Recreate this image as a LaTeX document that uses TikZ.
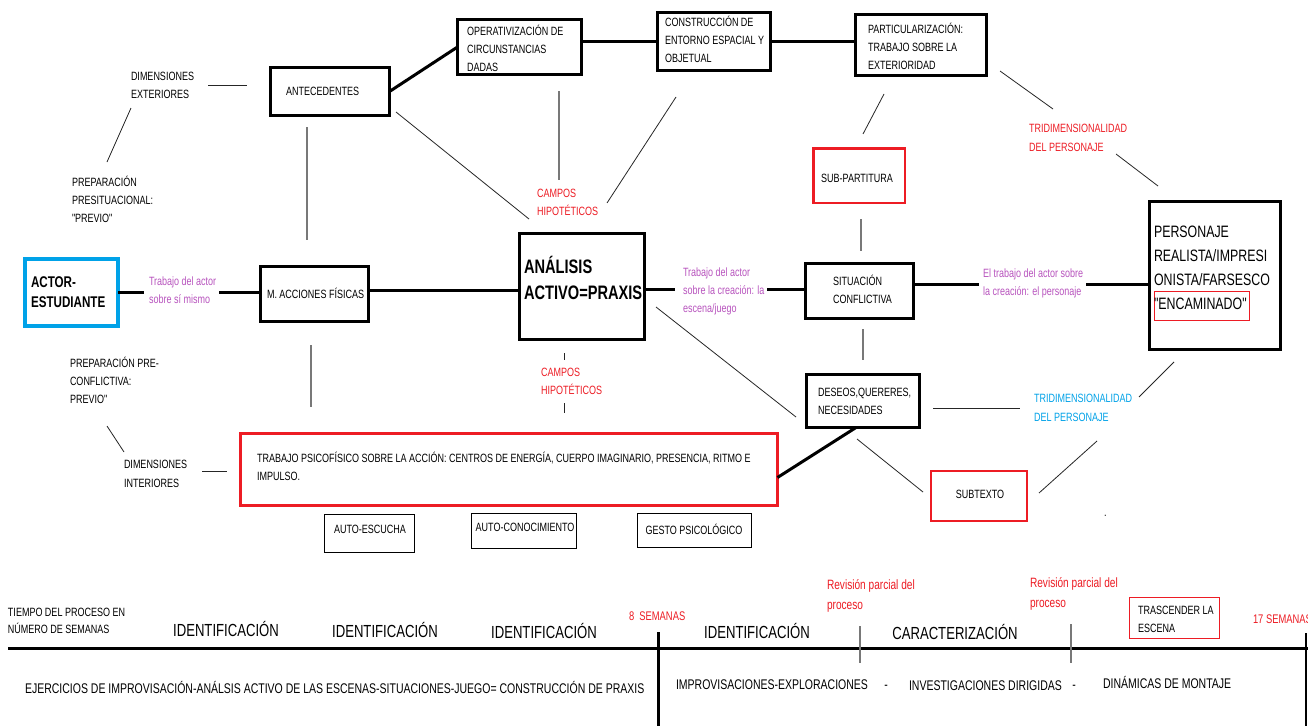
\documentclass[tikz,border=0pt]{standalone}
\usepackage{fontspec}
\setmainfont{Liberation Sans}[FakeStretch=0.75, Ligatures=TeXOff]
\usetikzlibrary{calc}
\definecolor{pred}{RGB}{237,28,36}
\definecolor{pblue}{RGB}{0,162,232}
\definecolor{ppurp}{RGB}{184,84,190}
\definecolor{lgray}{RGB}{120,120,120}
\begin{document}
\begin{tikzpicture}[x=1pt,y=-1pt,
  box/.style={draw, line width=3pt, inner sep=0pt, outer sep=0pt, anchor=north west},
  rbox/.style={box, draw=pred},
  sbox/.style={box, line width=1pt},
  % multi-line texts are placed by the baseline of their last line
  t/.style={inner sep=0pt, outer sep=0pt, anchor=base west, align=left, font=\fontsize{12}{18}\selectfont},
  tc/.style={t, anchor=base, align=center},
  fat/.style={line width=3pt},
  thin/.style={line width=0.8pt, draw=black!85},
  gthin/.style={line width=1.1pt, draw=lgray},
]
\useasboundingbox (0,0) rectangle (1308,726);
\fill[white] (0,0) rectangle (1308,726);

% ---------- boxes ----------
\node[box, minimum width=119pt, minimum height=48pt] (ant) at (270.5,67.5) {};
\node[box, minimum width=124pt, minimum height=55pt] (ope) at (457.5,19.5) {};
\node[box, minimum width=113pt, minimum height=58pt] (con) at (657.5,12.5) {};
\node[box, minimum width=131pt, minimum height=61pt] (par) at (855.5,14.5) {};
\node[rbox, line width=2.5pt, minimum width=91.5pt, minimum height=54.5pt] (sub) at (813.25,148.25) {};
\node[box, minimum width=108pt, minimum height=55pt] (sit) at (805.5,263.5) {};
\node[box, minimum width=113pt, minimum height=53pt] (des) at (806.5,374.5) {};
\node[box, minimum width=131pt, minimum height=148pt] (per) at (1149.5,201.5) {};
\node[box, minimum width=125pt, minimum height=106pt] (ana) at (519.5,233.5) {};
\node[box, minimum width=108pt, minimum height=55pt] (mac) at (260.5,266.5) {};
\node[box, draw=pblue, line width=4pt, minimum width=93pt, minimum height=67pt] (act) at (25,259) {};
\node[rbox, minimum width=537pt, minimum height=72pt] (tra) at (240.5,433.5) {};
\node[rbox, line width=2.2pt, minimum width=96pt, minimum height=50pt] (stx) at (931,471) {};
\node[sbox, minimum width=90pt, minimum height=38pt] (aes) at (324.5,514.5) {};
\node[sbox, minimum width=105pt, minimum height=35pt] (aco) at (471.5,513.5) {};
\node[sbox, minimum width=114pt, minimum height=34pt] (ges) at (637.5,513.5) {};
\node[sbox, draw=pred, line width=1.2pt, minimum width=90pt, minimum height=41pt] (tre) at (1129.5,597.5) {};
\node[sbox, draw=pred, minimum width=95pt, minimum height=29pt] (enc) at (1154.5,291.5) {};

% ---------- box texts ----------
\node[t] (antT) at (286,95.3) {ANTECEDENTES};
\node[t] (opeT) at (467,71.3) {OPERATIVIZACIÓN DE\\CIRCUNSTANCIAS\\DADAS};
\node[t] (conT) at (665,62.5) {CONSTRUCCIÓN DE\\ENTORNO ESPACIAL Y\\OBJETUAL};
\node[t] (parT) at (868,69.3) {PARTICULARIZACIÓN:\\TRABAJO SOBRE LA\\EXTERIORIDAD};
\node[tc] (subT) at (857,182.3) {SUB-PARTITURA};
\node[t] (sitT) at (833,303.3) {SITUACIÓN\\CONFLICTIVA};
\node[t] (desT) at (818,414.3) {DESEOS,QUERERES,\\NECESIDADES};
\node[t, font=\fontsize{16.5}{24}\selectfont] (perT) at (1154,309) {PERSONAJE\\REALISTA/IMPRESI\\ONISTA/FARSESCO\\"ENCAMINADO"};
\node[t, font=\fontsize{19.5}{26}\selectfont\bfseries] (anaT) at (524,299) {ANÁLISIS\\ACTIVO=PRAXIS};
\node[t] (macT) at (267,298.3) {M. ACCIONES FÍSICAS};
\node[t, font=\fontsize{15.5}{20}\selectfont\bfseries] (actT) at (31,307.5) {ACTOR-\\ESTUDIANTE};
\node[t] (traT) at (257,480.3) {TRABAJO PSICOFÍSICO SOBRE LA ACCIÓN: CENTROS DE ENERGÍA, CUERPO IMAGINARIO, PRESENCIA, RITMO E\\IMPULSO.};
\node[tc] (stxT) at (980,498.3) {SUBTEXTO};
\node[tc] (aesT) at (370,533.3) {AUTO-ESCUCHA};
\node[tc] (acoT) at (525,531.3) {AUTO-CONOCIMIENTO};
\node[tc] (gesT) at (694,534.3) {GESTO PSICOLÓGICO};
\node[t] (treT) at (1138,632.3) {TRASCENDER LA\\ESCENA};

% ---------- free labels ----------
\node[t] (dext) at (131,98.3) {DIMENSIONES\\EXTERIORES};
\node[t] (pres) at (72,222.3) {PREPARACIÓN\\PRESITUACIONAL:\\"PREVIO"};
\node[t] (pcon) at (70,403.3) {PREPARACIÓN PRE-\\CONFLICTIVA:\\PREVIO"};
\node[t, font=\fontsize{12}{19}\selectfont] (dint) at (124,487.3) {DIMENSIONES\\INTERIORES};
\node[t, text=pred] (cam1) at (537,215.3) {CAMPOS\\HIPOTÉTICOS};
\node[t, text=pred] (cam2) at (541,394.3) {CAMPOS\\HIPOTÉTICOS};
\node[t, text=pred, font=\fontsize{12}{19}\selectfont] (tri1) at (1029,151.3) {TRIDIMENSIONALIDAD\\DEL PERSONAJE};
\node[t, text=pblue, font=\fontsize{12}{19}\selectfont] (tri2) at (1034,421.3) {TRIDIMENSIONALIDAD\\DEL PERSONAJE};
\node[t, text=ppurp] (p1) at (149,303.3) {Trabajo del actor\\sobre sí mismo};
\node[t, text=ppurp] (p2) at (683,312.3) {Trabajo del actor\\sobre la creación: la\\escena/juego};
\node[t, text=ppurp] (p3) at (983,295.3) {El trabajo del actor sobre\\la creación: el personaje};
\node[t] (dot) at (1104,516) {.};

% ---------- thick connectors ----------
\draw[fat] (act.east) -- ($(p1.west |- act.east)+(-5,0)$);
\draw[fat] ($(p1.east |- act.east)+(3,0)$) -- (mac.west |- act.east);
\draw[fat] ([yshift=4pt]mac.east) -- ([yshift=4pt]mac.east -| ana.west);
\path ([yshift=2pt]sit.west) coordinate (sw);
\draw[fat] (ana.east |- sw) -- ($(p2.west |- sw)+(-8,0)$);
\draw[fat] ($(p2.east |- sw)+(3,0)$) -- (sw);
\path ([yshift=7pt]sit.east) coordinate (se);
\draw[fat] (se) -- ($(p3.west |- se)+(-4,0)$);
\draw[fat] ($(p3.east |- se)+(3,0)$) -- (per.west |- se);
\draw[fat] (ant.east) -- (ope.west);
\draw[fat] (ope.east |- con.west) -- (con.west);
\draw[fat] (con.east) -- (con.east -| par.west);
\draw[fat] ([yshift=-8pt]tra.east) -- ([xshift=-7pt]des.south);

% ---------- thin connectors ----------
\coordinate (dextR) at (208,85);   \coordinate (antL) at (247,85);
\coordinate (dextB) at (131,108);  \coordinate (presT) at (107,162);
\coordinate (antB) at (307,127);   \coordinate (macA) at (307,240);
\coordinate (macB) at (311,345);   \coordinate (traA) at (311,407);
\coordinate (pconB) at (107,426);  \coordinate (dintT) at (124,452);
\coordinate (dintR) at (202,471);  \coordinate (traL) at (227,471);
\coordinate (antD) at (396,112);   \coordinate (anaA) at (529,219);
\coordinate (opeB) at (559,91);    \coordinate (cam1T) at (559,180);
\coordinate (conB) at (676,97);    \coordinate (cam1R) at (607,203);
\coordinate (anaB1) at (564,353);  \coordinate (cam2T) at (564,360);
\coordinate (cam2B) at (564,403);  \coordinate (traT1) at (564,413);
\coordinate (anaD) at (656,307);   \coordinate (desL) at (796,417);
\coordinate (parB) at (884,94);    \coordinate (subT1) at (863,134);
\coordinate (subB) at (861,219);   \coordinate (sitT1) at (861,251);
\coordinate (sitB) at (863,329);   \coordinate (desT1) at (863,360);
\coordinate (parR) at (1000,71);   \coordinate (tri1L) at (1053,109);
\coordinate (tri1R) at (1116,154); \coordinate (perT1) at (1158,186);
\coordinate (desD) at (857,439);   \coordinate (stxL) at (923,492);
\coordinate (desR) at (933,408);   \coordinate (tri2L) at (1020,408);
\coordinate (tri2R) at (1139,397); \coordinate (perB) at (1174,362);
\coordinate (tri2B) at (1097,441); \coordinate (stxR) at (1039,493);

\draw[thin] (dextR) -- (antL);
\draw[thin] (dextB) -- (presT);
\draw[gthin] (antB) -- (macA);
\draw[gthin] (macB) -- (traA);
\draw[thin] (pconB) -- (dintT);
\draw[thin] (dintR) -- (traL);
\draw[thin] (antD) -- (anaA);
\draw[gthin] (opeB) -- (cam1T);
\draw[thin] (conB) -- (cam1R);
\draw[thin] (anaB1) -- (cam2T);
\draw[thin] (cam2B) -- (traT1);
\draw[thin] (anaD) -- (desL);
\draw[thin] (parB) -- (subT1);
\draw[gthin] (subB) -- (sitT1);
\draw[gthin] (sitB) -- (desT1);
\draw[thin] (parR) -- (tri1L);
\draw[thin] (tri1R) -- (perT1);
\draw[thin] (desD) -- (stxL);
\draw[thin] (desR) -- (tri2L);
\draw[thin] (tri2R) -- (perB);
\draw[thin] (tri2B) -- (stxR);

% ---------- timeline ----------
\node[t, font=\fontsize{12}{17}\selectfont] (tiempo) at (8,633.3) {TIEMPO DEL PROCESO EN\\NÚMERO DE SEMANAS};
\node[tc, font=\fontsize{17.5}{20}\selectfont] (id1) at (226,636.3) {IDENTIFICACIÓN};
\node[tc, font=\fontsize{17.5}{20}\selectfont] (id2) at (385,637.3) {IDENTIFICACIÓN};
\node[tc, font=\fontsize{17.5}{20}\selectfont] (id3) at (544,638.3) {IDENTIFICACIÓN};
\node[tc, font=\fontsize{17.5}{20}\selectfont] (id4) at (757,638.3) {IDENTIFICACIÓN};
\node[tc, font=\fontsize{17.5}{20}\selectfont] (car) at (955,639.3) {CARACTERIZACIÓN};
\node[t, text=pred, font=\fontsize{12.5}{18}\selectfont] (s8) at (629,620.5) {8\ \ SEMANAS};
\node[t, text=pred, font=\fontsize{12.5}{18}\selectfont] (s17) at (1253,623.5) {17 SEMANAS};
\node[t, text=pred, font=\fontsize{13.5}{20}\selectfont] (rev1) at (827,609.8) {Revisión parcial del\\proceso};
\node[t, text=pred, font=\fontsize{13.5}{20}\selectfont] (rev2) at (1030,607.8) {Revisión parcial del\\proceso};
\node[t, font=\fontsize{14}{18}\selectfont] (ejer) at (25,693) {EJERCICIOS DE IMPROVISACIÓN-ANÁLSIS ACTIVO DE LAS ESCENAS-SITUACIONES-JUEGO= CONSTRUCCIÓN DE PRAXIS};
\node[t, font=\fontsize{14}{18}\selectfont] (impr) at (676,689) {IMPROVISACIONES-EXPLORACIONES};
\node[tc, font=\fontsize{14}{18}\selectfont] (d1) at (886,689) {-};
\node[t, font=\fontsize{14}{18}\selectfont] (inv) at (909,690) {INVESTIGACIONES DIRIGIDAS};
\node[tc, font=\fontsize{14}{18}\selectfont] (d2) at (1074,689) {-};
\node[t, font=\fontsize{14}{18}\selectfont] (din) at (1103,688) {DINÁMICAS DE MONTAJE};

\coordinate (tlL) at (8,648.5);    \coordinate (tlR) at (1308,648.5);
\coordinate (m8T) at (658.5,632);  \coordinate (m8B) at (658.5,726);
\coordinate (m17T) at (1306,633);  \coordinate (m17B) at (1306,726);
\coordinate (r1T) at (860,626);    \coordinate (r1B) at (860,663);
\coordinate (r2T) at (1071,624);   \coordinate (r2B) at (1071,663);
\draw[line width=3.5pt] (tlL) -- (tlR);
\draw[line width=2.5pt] (m8T) -- (m8B);
\draw[line width=2.5pt] (m17T) -- (m17B);
\draw[gthin] (r1T) -- (r1B);
\draw[gthin] (r2T) -- (r2B);
\end{tikzpicture}
\end{document}
